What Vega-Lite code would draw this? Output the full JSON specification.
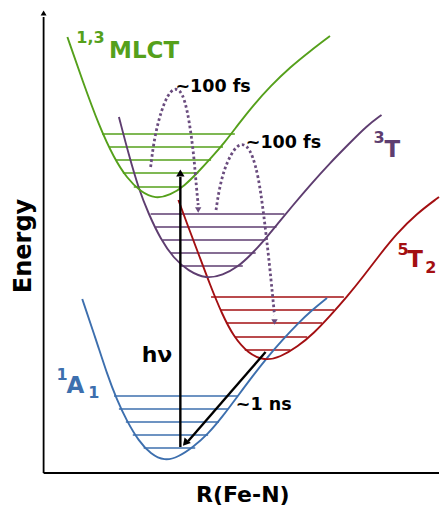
{
  "$schema": "https://vega.github.io/schema/vega-lite/v6.json",
  "width": 443,
  "height": 507,
  "autosize": {"type": "fit", "contains": "padding"},
  "padding": 0,
  "background": "white",
  "config": {"view": {"stroke": null}, "text": {"font": "DejaVu Sans", "fontWeight": "bold"}},
  "datasets": {
    "curves": [
      {"state": "1A1", "R": 83, "E": 208}, {"state": "1A1", "R": 97, "E": 167}, {"state": "1A1", "R": 108, "E": 133}, {"state": "1A1", "R": 118, "E": 107}, {"state": "1A1", "R": 128, "E": 86}, {"state": "1A1", "R": 140, "E": 66}, {"state": "1A1", "R": 152, "E": 53}, {"state": "1A1", "R": 166, "E": 46}, {"state": "1A1", "R": 180, "E": 50}, {"state": "1A1", "R": 195, "E": 60}, {"state": "1A1", "R": 210, "E": 73}, {"state": "1A1", "R": 225, "E": 91}, {"state": "1A1", "R": 240, "E": 111}, {"state": "1A1", "R": 255, "E": 131}, {"state": "1A1", "R": 270, "E": 150}, {"state": "1A1", "R": 285, "E": 167}, {"state": "1A1", "R": 300, "E": 183}, {"state": "1A1", "R": 315, "E": 197}, {"state": "1A1", "R": 330, "E": 209},
      {"state": "5T2", "R": 180, "E": 307}, {"state": "5T2", "R": 190, "E": 280}, {"state": "5T2", "R": 200, "E": 254}, {"state": "5T2", "R": 212, "E": 222}, {"state": "5T2", "R": 224, "E": 193}, {"state": "5T2", "R": 236, "E": 170}, {"state": "5T2", "R": 250, "E": 154}, {"state": "5T2", "R": 267, "E": 146}, {"state": "5T2", "R": 283, "E": 150}, {"state": "5T2", "R": 300, "E": 160}, {"state": "5T2", "R": 317, "E": 174}, {"state": "5T2", "R": 333, "E": 191}, {"state": "5T2", "R": 350, "E": 210}, {"state": "5T2", "R": 367, "E": 231}, {"state": "5T2", "R": 383, "E": 252}, {"state": "5T2", "R": 400, "E": 273}, {"state": "5T2", "R": 420, "E": 293}, {"state": "5T2", "R": 443, "E": 310},
      {"state": "3T", "R": 120, "E": 390}, {"state": "3T", "R": 130, "E": 352}, {"state": "3T", "R": 140, "E": 318}, {"state": "3T", "R": 150, "E": 293}, {"state": "3T", "R": 162, "E": 268}, {"state": "3T", "R": 175, "E": 249}, {"state": "3T", "R": 190, "E": 236}, {"state": "3T", "R": 208, "E": 228}, {"state": "3T", "R": 225, "E": 232}, {"state": "3T", "R": 240, "E": 240}, {"state": "3T", "R": 253, "E": 252}, {"state": "3T", "R": 267, "E": 267}, {"state": "3T", "R": 280, "E": 283}, {"state": "3T", "R": 295, "E": 301}, {"state": "3T", "R": 313, "E": 322}, {"state": "3T", "R": 333, "E": 344}, {"state": "3T", "R": 353, "E": 364}, {"state": "3T", "R": 370, "E": 381}, {"state": "3T", "R": 385, "E": 392},
      {"state": "MLCT", "R": 68, "E": 470}, {"state": "MLCT", "R": 83, "E": 427}, {"state": "MLCT", "R": 100, "E": 381}, {"state": "MLCT", "R": 115, "E": 349}, {"state": "MLCT", "R": 128, "E": 329}, {"state": "MLCT", "R": 142, "E": 315}, {"state": "MLCT", "R": 157, "E": 308}, {"state": "MLCT", "R": 172, "E": 312}, {"state": "MLCT", "R": 186, "E": 321}, {"state": "MLCT", "R": 200, "E": 335}, {"state": "MLCT", "R": 213, "E": 349}, {"state": "MLCT", "R": 227, "E": 365}, {"state": "MLCT", "R": 240, "E": 382}, {"state": "MLCT", "R": 255, "E": 401}, {"state": "MLCT", "R": 273, "E": 421}, {"state": "MLCT", "R": 293, "E": 440}, {"state": "MLCT", "R": 313, "E": 456}, {"state": "MLCT", "R": 333, "E": 471}
    ],
    "levels": [
      {"state": "1A1", "R1": 115, "R2": 240, "E": 111}, {"state": "1A1", "R1": 120, "R2": 230, "E": 98}, {"state": "1A1", "R1": 127, "R2": 221, "E": 85}, {"state": "1A1", "R1": 134, "R2": 210, "E": 72}, {"state": "1A1", "R1": 145, "R2": 197, "E": 59},
      {"state": "5T2", "R1": 213, "R2": 347, "E": 210}, {"state": "5T2", "R1": 222, "R2": 337, "E": 197}, {"state": "5T2", "R1": 228, "R2": 325, "E": 184}, {"state": "5T2", "R1": 237, "R2": 310, "E": 170}, {"state": "5T2", "R1": 247, "R2": 293, "E": 157},
      {"state": "3T", "R1": 152, "R2": 287, "E": 293}, {"state": "3T", "R1": 157, "R2": 279, "E": 280}, {"state": "3T", "R1": 164, "R2": 268, "E": 267}, {"state": "3T", "R1": 172, "R2": 258, "E": 254}, {"state": "3T", "R1": 182, "R2": 245, "E": 241},
      {"state": "MLCT", "R1": 103, "R2": 237, "E": 373}, {"state": "MLCT", "R1": 110, "R2": 225, "E": 360}, {"state": "MLCT", "R1": 117, "R2": 213, "E": 347}, {"state": "MLCT", "R1": 124, "R2": 200, "E": 334}, {"state": "MLCT", "R1": 135, "R2": 183, "E": 320}
    ],
    "arcs": [
      {"arc": "a", "R": 152, "E": 340}, {"arc": "a", "R": 155, "E": 364}, {"arc": "a", "R": 160, "E": 387}, {"arc": "a", "R": 166, "E": 405}, {"arc": "a", "R": 172, "E": 416}, {"arc": "a", "R": 178, "E": 419}, {"arc": "a", "R": 184, "E": 414}, {"arc": "a", "R": 189, "E": 397}, {"arc": "a", "R": 193, "E": 372}, {"arc": "a", "R": 196, "E": 347}, {"arc": "a", "R": 198, "E": 322}, {"arc": "a", "R": 200, "E": 302},
      {"arc": "b", "R": 218, "E": 297}, {"arc": "b", "R": 221, "E": 317}, {"arc": "b", "R": 226, "E": 337}, {"arc": "b", "R": 233, "E": 353}, {"arc": "b", "R": 240, "E": 362}, {"arc": "b", "R": 246, "E": 363}, {"arc": "b", "R": 252, "E": 358}, {"arc": "b", "R": 258, "E": 342}, {"arc": "b", "R": 263, "E": 317}, {"arc": "b", "R": 268, "E": 277}, {"arc": "b", "R": 272, "E": 242}, {"arc": "b", "R": 275, "E": 212}, {"arc": "b", "R": 277, "E": 192}
    ],
    "archeads": [{"R": 200, "E": 297}, {"R": 277, "E": 185}],
    "arrows": [
      {"name": "hv", "R": 182, "E": 60, "R2": 182, "E2": 330},
      {"name": "ns", "R": 268, "E": 155, "R2": 190, "E2": 66}
    ],
    "axes": [
      {"name": "y", "R": 44, "E": 34, "R2": 44, "E2": 490},
      {"name": "x", "R": 44, "E": 34, "R2": 443, "E2": 34}
    ],
    "stateLabels": [
      {"state": "MLCT", "label": "MLCT", "R": 110, "E": 449},
      {"state": "3T", "label": "T", "R": 388, "E": 350},
      {"state": "5T2", "label": "T", "R": 411, "E": 240},
      {"state": "1A1", "label": "A", "R": 67, "E": 114}
    ],
    "scripts": [
      {"state": "MLCT", "label": "1,3", "R": 77, "E": 464},
      {"state": "3T", "label": "3", "R": 377, "E": 364},
      {"state": "5T2", "label": "5", "R": 401, "E": 252},
      {"state": "5T2", "label": "2", "R": 429, "E": 234},
      {"state": "1A1", "label": "1", "R": 57, "E": 127},
      {"state": "1A1", "label": "1", "R": 89, "E": 109}
    ],
    "times": [
      {"label": "~100 fs", "R": 177, "E": 415},
      {"label": "~100 fs", "R": 248, "E": 359},
      {"label": "~1 ns", "R": 238, "E": 97}
    ]
  },
  "layer": [
    {
      "data": {"name": "axes"},
      "mark": {"type": "rule", "color": "black", "strokeWidth": 1.8},
      "encoding": {
        "x": {"field": "R", "type": "quantitative", "scale": {"domain": [0, 443], "nice": false, "zero": false}, "axis": null},
        "y": {"field": "E", "type": "quantitative", "scale": {"domain": [0, 507], "nice": false, "zero": false}, "axis": null},
        "x2": {"field": "R2"},
        "y2": {"field": "E2"}
      }
    },
    {
      "data": {"values": [{"R": 44, "E": 494}]},
      "mark": {"type": "point", "shape": "triangle-up", "filled": true, "color": "black", "size": 35, "opacity": 1},
      "encoding": {
        "x": {"field": "R", "type": "quantitative"},
        "y": {"field": "E", "type": "quantitative"}
      }
    },
    {
      "data": {"name": "levels"},
      "mark": {"type": "rule", "strokeWidth": 1.3},
      "encoding": {
        "x": {"field": "R1", "type": "quantitative"},
        "x2": {"field": "R2"},
        "y": {"field": "E", "type": "quantitative"},
        "color": {"field": "state", "type": "nominal", "scale": {"domain": ["1A1", "5T2", "3T", "MLCT"], "range": ["#3d6fae", "#a30f12", "#5e3d70", "#55a01b"]}, "legend": null}
      }
    },
    {
      "data": {"name": "curves"},
      "mark": {"type": "line", "strokeWidth": 1.9, "interpolate": "basis"},
      "encoding": {
        "x": {"field": "R", "type": "quantitative"},
        "y": {"field": "E", "type": "quantitative"},
        "color": {"field": "state", "type": "nominal", "legend": null}
      }
    },
    {
      "data": {"name": "arcs"},
      "mark": {"type": "line", "color": "#6a4c7e", "strokeWidth": 2.8, "strokeDash": [2.6, 2.6], "interpolate": "basis"},
      "encoding": {
        "x": {"field": "R", "type": "quantitative"},
        "y": {"field": "E", "type": "quantitative"},
        "detail": {"field": "arc"}
      }
    },
    {
      "data": {"name": "archeads"},
      "mark": {"type": "point", "shape": "triangle-down", "filled": true, "color": "#6a4c7e", "size": 40, "opacity": 1},
      "encoding": {
        "x": {"field": "R", "type": "quantitative"},
        "y": {"field": "E", "type": "quantitative"}
      }
    },
    {
      "data": {"name": "arrows"},
      "mark": {"type": "rule", "color": "black", "strokeWidth": 2.4},
      "encoding": {
        "x": {"field": "R", "type": "quantitative"},
        "y": {"field": "E", "type": "quantitative"},
        "x2": {"field": "R2"},
        "y2": {"field": "E2"}
      }
    },
    {
      "data": {"values": [{"R": 182, "E": 334}]},
      "mark": {"type": "point", "shape": "triangle-up", "filled": true, "color": "black", "size": 70, "opacity": 1},
      "encoding": {
        "x": {"field": "R", "type": "quantitative"},
        "y": {"field": "E", "type": "quantitative"}
      }
    },
    {
      "data": {"values": [{"R": 187, "E": 64}]},
      "mark": {"type": "point", "shape": "triangle-up", "filled": true, "color": "black", "size": 70, "opacity": 1, "angle": 221},
      "encoding": {
        "x": {"field": "R", "type": "quantitative"},
        "y": {"field": "E", "type": "quantitative"}
      }
    },
    {
      "data": {"name": "stateLabels"},
      "mark": {"type": "text", "fontSize": 23, "align": "left", "baseline": "alphabetic"},
      "encoding": {
        "x": {"field": "R", "type": "quantitative"},
        "y": {"field": "E", "type": "quantitative"},
        "text": {"field": "label"},
        "color": {"field": "state", "type": "nominal", "legend": null}
      }
    },
    {
      "data": {"name": "scripts"},
      "mark": {"type": "text", "fontSize": 16, "align": "left", "baseline": "alphabetic"},
      "encoding": {
        "x": {"field": "R", "type": "quantitative"},
        "y": {"field": "E", "type": "quantitative"},
        "text": {"field": "label"},
        "color": {"field": "state", "type": "nominal", "legend": null}
      }
    },
    {
      "data": {"name": "times"},
      "mark": {"type": "text", "fontSize": 17.5, "align": "left", "baseline": "alphabetic", "color": "black"},
      "encoding": {
        "x": {"field": "R", "type": "quantitative"},
        "y": {"field": "E", "type": "quantitative"},
        "text": {"field": "label"}
      }
    },
    {
      "data": {"values": [{"label": "hν", "R": 143, "E": 145}]},
      "mark": {"type": "text", "fontSize": 22, "align": "left", "baseline": "alphabetic", "color": "black"},
      "encoding": {
        "x": {"field": "R", "type": "quantitative"},
        "y": {"field": "E", "type": "quantitative"},
        "text": {"field": "label"}
      }
    },
    {
      "data": {"values": [{"label": "R(Fe-N)", "R": 245, "E": 5}]},
      "mark": {"type": "text", "fontSize": 22, "align": "center", "baseline": "alphabetic", "color": "black"},
      "encoding": {
        "x": {"field": "R", "type": "quantitative"},
        "y": {"field": "E", "type": "quantitative"},
        "text": {"field": "label"}
      }
    },
    {
      "data": {"values": [{"label": "Energy", "R": 31, "E": 261}]},
      "mark": {"type": "text", "fontSize": 24, "align": "center", "baseline": "alphabetic", "color": "black", "angle": 270},
      "encoding": {
        "x": {"field": "R", "type": "quantitative"},
        "y": {"field": "E", "type": "quantitative"},
        "text": {"field": "label"}
      }
    }
  ]
}
